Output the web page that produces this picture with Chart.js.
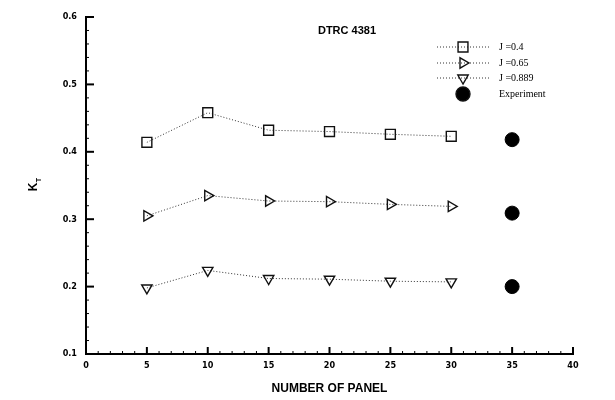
<!DOCTYPE html>
<html>
<head>
<meta charset="utf-8">
<script src="https://cdn.jsdelivr.net/npm/chart.js@4"></script>
<style>
  html, body { margin: 0; padding: 0; background: #fff; }
  #wrap { width: 615px; height: 400px; }
</style>
</head>
<body>
<div id="wrap"><canvas id="chart" width="615" height="400"></canvas></div>
<script>
// panel counts and computed thrust coefficients
const panels = [5, 10, 15, 20, 25, 30];
const ktJ040 = [0.414, 0.458, 0.432, 0.430, 0.426, 0.423];
const ktJ065 = [0.305, 0.335, 0.327, 0.326, 0.322, 0.319];
const ktJ089 = [0.198, 0.224, 0.212, 0.211, 0.208, 0.207];

// experiment values drawn at the right of the plot
const expPanel = 35;
const expValues = [0.418, 0.309, 0.200];

const seriesLabels = ['J =0.4', 'J =0.65', 'J =0.889', 'Experiment'];

function toPoints(xs, ys) {
    return xs.map((x, i) => ({ x: x, y: ys[i] }));
}

const lineStyle = {
    borderColor: '#333',
    borderWidth: 1,
    borderDash: [1, 2],
    backgroundColor: 'rgba(0,0,0,0)',
    pointBorderColor: '#111',
    pointBorderWidth: 1.4,
    pointBackgroundColor: 'rgba(0,0,0,0)',
    fill: false,
    tension: 0
};

// inward ticks, title, K_T label and the legend
const decorPlugin = {
    id: 'decor',
    afterDraw(chart) {
        const ctx = chart.ctx;
        const xs = chart.scales.x;
        const ys = chart.scales.y;
        const area = chart.chartArea;
        ctx.save();
        ctx.strokeStyle = '#000';

        // x ticks, pointing up
        for (let v = 0; v <= 40; v++) {
            const px = xs.getPixelForValue(v);
            const major = v % 5 === 0;
            ctx.lineWidth = major ? 2 : 1;
            ctx.beginPath();
            ctx.moveTo(px, area.bottom);
            ctx.lineTo(px, area.bottom - (major ? 7 : 3));
            ctx.stroke();
        }
        // y ticks, pointing right
        for (let i = 0; i <= 25; i++) {
            const v = 0.1 + i * 0.02;
            const py = ys.getPixelForValue(v);
            const major = i % 5 === 0;
            ctx.lineWidth = major ? 2 : 1;
            ctx.beginPath();
            ctx.moveTo(area.left, py);
            ctx.lineTo(area.left + (major ? 8 : 3), py);
            ctx.stroke();
        }

        // chart title inside the plot
        ctx.fillStyle = '#000';
        ctx.font = 'bold 11px "Liberation Sans", sans-serif';
        ctx.textAlign = 'center';
        ctx.textBaseline = 'middle';
        ctx.fillText('DTRC 4381', 347, 31);

        // K_T axis label, rotated
        ctx.save();
        ctx.translate(34, 185);
        ctx.rotate(-Math.PI / 2);
        ctx.font = 'bold 12px "Liberation Sans", sans-serif';
        ctx.textAlign = 'center';
        ctx.fillText('K', -2, 0);
        ctx.font = 'bold 7px "Liberation Sans", sans-serif';
        ctx.fillText('T', 5, 5);
        ctx.restore();

        // legend
        const rowsY = [47, 63, 78, 94];
        ctx.font = '10px "Liberation Serif", serif';
        ctx.textAlign = 'left';
        const ds = chart.data.datasets;
        for (let i = 0; i < 4; i++) {
            const y = rowsY[i];
            const d = ds[i];
            if (i < 3) {
                ctx.strokeStyle = '#333';
                ctx.lineWidth = 1;
                ctx.setLineDash([1, 2]);
                ctx.beginPath();
                ctx.moveTo(437, y);
                ctx.lineTo(490, y);
                ctx.stroke();
                ctx.setLineDash([]);
            }
            ctx.strokeStyle = '#111';
            ctx.fillStyle = i === 3 ? '#000' : 'rgba(0,0,0,0)';
            ctx.lineWidth = 1.4;
            Chart.helpers.drawPoint(ctx, {
                pointStyle: d.pointStyle,
                rotation: d.pointRotation || 0,
                radius: d.pointRadius,
                borderWidth: 1.4
            }, 463, y);
            ctx.fillStyle = '#000';
            ctx.fillText(seriesLabels[i], 499, y);
        }
        ctx.restore();
    }
};

new Chart(document.getElementById('chart'), {
    type: 'line',
    data: {
        datasets: [
            Object.assign({ label: seriesLabels[0], data: toPoints(panels, ktJ040),
                pointStyle: 'rect', pointRadius: 7 }, lineStyle),
            Object.assign({ label: seriesLabels[1], data: toPoints(panels, ktJ065),
                pointStyle: 'triangle', pointRotation: 90, pointRadius: 6 }, lineStyle),
            Object.assign({ label: seriesLabels[2], data: toPoints(panels, ktJ089),
                pointStyle: 'triangle', pointRotation: 180, pointRadius: 6 }, lineStyle),
            {
                label: seriesLabels[3],
                data: expValues.map(v => ({ x: expPanel, y: v })),
                showLine: false,
                pointStyle: 'circle',
                pointRadius: 7,
                pointBackgroundColor: '#000',
                pointBorderColor: '#000',
                borderColor: '#000',
                backgroundColor: '#000'
            }
        ]
    },
    options: {
        responsive: false,
        animation: false,
        layout: { padding: { top: 17, right: 42, left: 0, bottom: 0 } },
        plugins: {
            legend: { display: false },
            tooltip: { enabled: false }
        },
        scales: {
            x: {
                type: 'linear',
                min: 0,
                max: 40,
                grid: { display: false, drawTicks: false },
                border: { display: true, color: '#000', width: 2 },
                ticks: {
                    stepSize: 5,
                    padding: 6,
                    color: '#000',
                    font: { family: '"DejaVu Sans Condensed", "DejaVu Sans", sans-serif', size: 9, weight: 'bold' }
                },
                title: {
                    display: true,
                    text: 'NUMBER OF PANEL',
                    color: '#000',
                    padding: { top: 6, bottom: 4 },
                    font: { family: '"Liberation Sans", sans-serif', size: 12, weight: 'bold' }
                },
                afterFit(scale) { scale.height = 46; }
            },
            y: {
                type: 'linear',
                min: 0.1,
                max: 0.6,
                grid: { display: false, drawTicks: false },
                border: { display: true, color: '#000', width: 2 },
                ticks: {
                    stepSize: 0.1,
                    padding: 9,
                    color: '#000',
                    callback: v => v.toFixed(1),
                    font: { family: '"DejaVu Sans Condensed", "DejaVu Sans", sans-serif', size: 9, weight: 'bold' }
                },
                afterFit(scale) { scale.width = 86; }
            }
        }
    },
    plugins: [decorPlugin]
});
</script>
</body>
</html>
